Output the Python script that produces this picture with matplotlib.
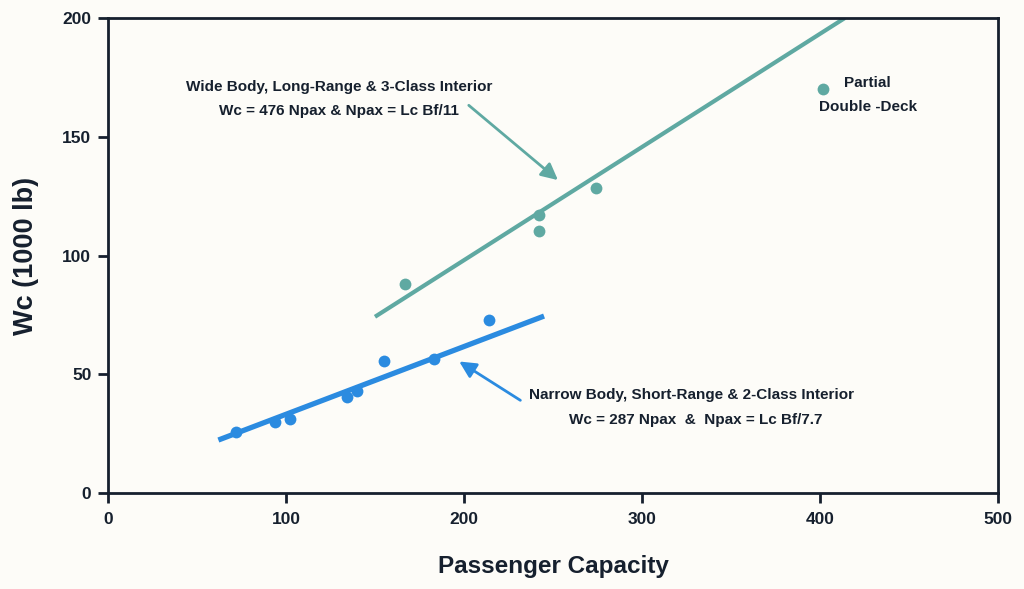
import matplotlib
matplotlib.use("Agg")
import matplotlib.pyplot as plt

# narrow body aircraft (blue)
narrow_pax = [72, 94, 102, 134, 140, 155, 183, 214]
narrow_wc = [25.8, 30.0, 31.2, 40.4, 43.1, 55.6, 56.4, 72.8]
narrow_fit_x = [62, 245]
narrow_fit_y = [22.3, 74.5]

# wide body aircraft (teal)
wide_pax = [167, 242, 242, 274, 402]
wide_wc = [87.9, 117.1, 110.3, 128.5, 170.1]
wide_fit_x = [150, 414]
wide_fit_y = [74.2, 200]

x_ticks = [0, 100, 200, 300, 400, 500]
y_ticks = [0, 50, 100, 150, 200]

BLUE = "#2b8be0"
TEAL = "#5fa9a2"
INK = "#16202e"
BG = "#fdfcf8"

plt.rcParams["font.family"] = ["Liberation Sans", "DejaVu Sans"]

fig = plt.figure(figsize=(10.24, 5.89), dpi=100, facecolor=BG)
ax = fig.add_axes([0.1055, 0.163, 0.869, 0.8064], facecolor=BG)

ax.plot(wide_fit_x, wide_fit_y, color=TEAL, lw=3.0, solid_capstyle="butt", zorder=2)
ax.plot(narrow_fit_x, narrow_fit_y, color=BLUE, lw=3.8, solid_capstyle="butt", zorder=2)
ax.plot(wide_pax, wide_wc, "o", color=TEAL, ms=8.5, mec="none", zorder=3)
ax.plot(narrow_pax, narrow_wc, "o", color=BLUE, ms=8.5, mec="none", zorder=3)

ax.annotate("", xy=(254, 131), xytext=(201.5, 164),
            arrowprops=dict(arrowstyle="-|>,head_length=1.0,head_width=0.5",
                            color=TEAL, lw=2))
ax.annotate("", xy=(196, 56), xytext=(233, 38.4),
            arrowprops=dict(arrowstyle="-|>,head_length=1.0,head_width=0.5",
                            color=BLUE, lw=2))

txt = dict(color=INK, fontsize=11, fontweight="bold", ha="center", va="center")
ax.text(130, 171, "Wide Body, Long-Range & 3-Class Interior", **txt)
ax.text(129.5, 161, "Wc = 476 Npax & Npax = Lc Bf/11", **txt)
ax.text(328, 41.3, "Narrow Body, Short-Range & 2-Class Interior", **txt)
ax.text(330, 30.7, "Wc = 287 Npax  &  Npax = Lc Bf/7.7", **txt)
ax.text(426.5, 172.6, "Partial", **txt)
ax.text(427, 162.5, "Double -Deck", **txt)

ax.set_xlim(0, 500)
ax.set_ylim(0, 200)
ax.set_xticks(x_ticks)
ax.set_yticks(y_ticks)
for s in ax.spines.values():
    s.set_color(INK)
    s.set_linewidth(2)
ax.tick_params(colors=INK, width=2, labelsize=12.5)
ax.tick_params(axis="x", length=7, pad=7)
ax.tick_params(axis="y", length=7, pad=5)
for lab in ax.get_xticklabels() + ax.get_yticklabels():
    lab.set_fontweight("bold")

ax.set_xlabel("Passenger Capacity", fontsize=17.5, fontweight="bold", color=INK, labelpad=20)
ax.set_ylabel("Wc (1000 lb)", fontsize=19.5, fontweight="bold", color=INK, labelpad=17)

fig.savefig("out.png", dpi=100, facecolor=BG)
